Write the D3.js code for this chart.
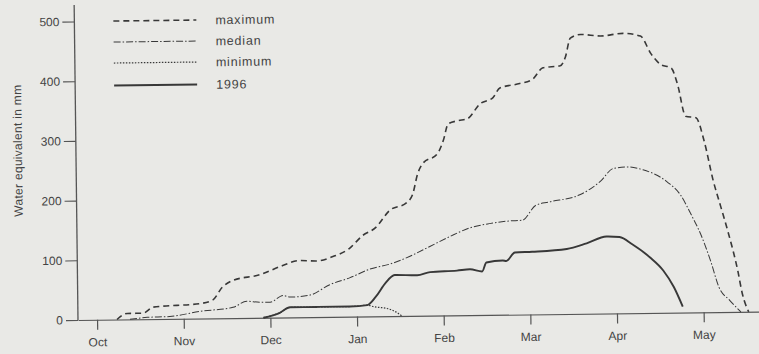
<!DOCTYPE html>
<html>
<head>
<meta charset="utf-8">
<script src="https://cdn.jsdelivr.net/npm/d3@7"></script>
<style>
  html, body { margin: 0; padding: 0; background: #e9e9e6; }
  svg { display: block; }
  text { font-family: "Liberation Sans", Arial, sans-serif; fill: #434343; }
</style>
</head>
<body>
<svg id="chart" width="759" height="354"></svg>
<script>
// Snow water equivalent through the winter season (months Oct = 0 ... May = 7)
const months = ["Oct", "Nov", "Dec", "Jan", "Feb", "Mar", "Apr", "May"];
const yTicks = [0, 100, 200, 300, 400, 500];

// [month position, water equivalent in mm]
const maximum = [[0.23,0],[0.35,10],[0.53,10],[0.65,20],[1.19,25],[1.34,31],[1.45,52],[1.57,63],[1.88,72],[2.15,87],[2.34,95],[2.54,94],[2.73,101],[2.92,114],[3.07,135],[3.23,149],[3.39,177],[3.59,190],[3.66,204],[3.72,238],[3.78,255],[3.95,271],[4.02,293],[4.08,321],[4.19,326],[4.30,329],[4.45,354],[4.60,364],[4.68,380],[4.91,387],[5.06,394],[5.18,413],[5.38,416],[5.44,430],[5.50,462],[5.62,468],[5.85,465],[6.11,469],[6.31,464],[6.43,434],[6.54,416],[6.66,410],[6.73,383],[6.82,329],[6.94,326],[7.03,287],[7.13,220],[7.21,178],[7.29,136],[7.40,69],[7.45,30],[7.52,0]];
const median = [[0.38,0],[0.58,3],[0.84,4],[1.19,12],[1.57,18],[1.73,28],[1.88,26],[2.0,26],[2.15,37],[2.23,34],[2.46,37],[2.69,54],[2.92,65],[3.15,79],[3.38,87],[3.62,100],[3.85,116],[4.08,132],[4.31,146],[4.54,153],[4.77,157],[4.92,158],[5.08,183],[5.23,188],[5.58,199],[5.83,222],[5.98,243],[6.14,245],[6.32,240],[6.60,219],[6.75,197],[6.87,164],[6.98,130],[7.09,85],[7.18,42],[7.30,20],[7.43,0]];
const minimum = [[1.92,0],[2.11,8],[2.23,17],[2.54,17],[2.92,17],[3.12,19],[3.20,16],[3.35,13],[3.46,6],[3.52,0]];
const year1996 = [[1.92,0],[2.11,8],[2.23,17],[2.54,17],[2.92,17],[3.12,19],[3.22,33],[3.33,55],[3.44,69],[3.70,68],[3.85,73],[4.16,75],[4.31,77],[4.45,73],[4.50,88],[4.69,91],[4.73,90],[4.83,104],[5.03,105],[5.43,109],[5.66,118],[5.89,129],[6.04,128],[6.19,115],[6.39,93],[6.54,71],[6.66,43],[6.76,10]];

const seriesNames = ["maximum", "median", "minimum", "1996"];

const svg = d3.select("#chart");
const W = 759, H = 354;
svg.append("rect").attr("width", W).attr("height", H).attr("fill", "#e9e9e6");

const ox = 78, oy = 320;
const g = svg.append("g").attr("transform", `rotate(-0.7, ${ox}, ${oy})`);

const x = d3.scaleLinear().domain([-0.22, 7.8]).range([ox, ox + 695]);
const y = d3.scaleLinear().domain([0, 500]).range([oy, 21.5]);

const ink = "#383838";
const axisInk = "#555";
const fontFamily = "Liberation Sans, Arial, sans-serif";

// Axes
const xAxis = g.append("g").attr("transform", `translate(0,${oy})`)
  .call(d3.axisBottom(x).tickValues(d3.range(months.length)).tickFormat(i => months[i]).tickSize(10).tickSizeOuter(0).tickPadding(8));
xAxis.select(".domain").attr("stroke", axisInk).attr("stroke-width", 1.2);
xAxis.selectAll(".tick line").attr("stroke", axisInk).attr("stroke-width", 1.2);
xAxis.selectAll(".tick text").attr("font-size", 12).attr("fill", "#434343").attr("font-family", fontFamily);

const yAxis = g.append("g").attr("transform", `translate(${ox},0)`)
  .call(d3.axisLeft(y).tickValues(yTicks).tickSize(12).tickSizeOuter(0).tickPadding(3));
yAxis.select(".domain").remove();
yAxis.selectAll(".tick line").attr("stroke", axisInk).attr("stroke-width", 1.1);
yAxis.selectAll(".tick text").attr("font-size", 12).attr("fill", "#434343").attr("font-family", fontFamily);
g.append("line").attr("x1", ox).attr("x2", ox).attr("y1", 5).attr("y2", oy)
  .attr("stroke", axisInk).attr("stroke-width", 1.3);

g.append("text")
  .attr("transform", `translate(${24},${150}) rotate(-90)`)
  .attr("text-anchor", "middle")
  .attr("font-size", 12)
  .attr("letter-spacing", 0.3)
  .text("Water equivalent in mm");

// Series styles
const styles = {
  "maximum": { data: maximum, dash: "6,4", width: 1.6 },
  "median":  { data: median, dash: "7,2,1.5,2", width: 1.0 },
  "minimum": { data: minimum, dash: "1.5,1.5", width: 1.2 },
  "1996":    { data: year1996, dash: null, width: 1.9 }
};

const line = d3.line().x(d => x(d[0])).y(d => y(d[1])).curve(d3.curveMonotoneX);

["minimum", "median", "maximum"].forEach(name => {
  const s = styles[name];
  g.append("path").datum(s.data).attr("d", line)
    .attr("fill", "none").attr("stroke", ink)
    .attr("stroke-width", s.width)
    .attr("stroke-dasharray", s.dash);
});
g.append("path").datum(year1996).attr("d", line)
  .attr("fill", "none").attr("stroke", ink).attr("stroke-width", styles["1996"].width)
  .attr("stroke-linejoin", "round");

// Legend
const legendY = [21.5, 42.5, 63.5, 86];
const legend = g.append("g");
seriesNames.forEach((name, i) => {
  const s = styles[name];
  legend.append("line")
    .attr("x1", 117).attr("x2", 200)
    .attr("y1", legendY[i]).attr("y2", legendY[i])
    .attr("stroke", ink).attr("stroke-width", s.width)
    .attr("stroke-dasharray", s.dash);
  legend.append("text")
    .attr("x", 219).attr("y", legendY[i]).attr("dy", "0.35em")
    .attr("font-size", 12.5)
    .attr("letter-spacing", 0.8)
    .text(name);
});
</script>
</body>
</html>
